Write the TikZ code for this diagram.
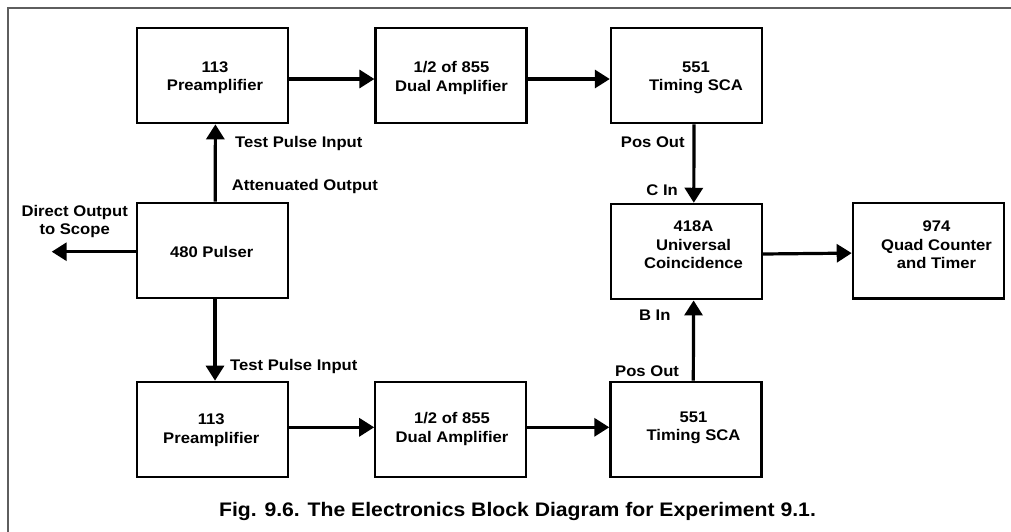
\documentclass[tikz,border=0pt]{standalone}
\usepackage{fontspec}
\setmainfont{Liberation Sans}[FakeStretch=1.08]
\usetikzlibrary{arrows.meta,calc}
\definecolor{framegray}{HTML}{5E5E5E}
\begin{document}
\begin{tikzpicture}[x=1pt,y=-1pt,
  box/.style={draw, line width=2.2pt, minimum width=151pt, minimum height=95.5pt, inner sep=0pt},
  txt/.style={font=\fontsize{15.4}{18.7}\selectfont\bfseries, align=center, inner sep=0pt},
  lbl/.style={font=\fontsize{15.4}{18.7}\selectfont\bfseries, inner sep=0pt},
  arr/.style={line width=3.2pt, -{Triangle[length=15pt,width=18pt]}},
  captext/.style={font=\fontsize{19.6}{23}\selectfont\bfseries, inner sep=0pt}
]
\useasboundingbox (0,0) rectangle (1011,531);
% frame
\draw[framegray, line width=2pt] (8,540) -- (8,8) -- (1020,8);

% boxes
\node[box] (pre1) at (212.4,75.5) {};
\node[box] (amp1) at (451,75.5) {};
\node[box] (sca1) at (686.4,75.5) {};
\node[box] (coin) at (686.2,251.6) {};
\node[box] (cnt) at (928.3,250.7) {};
\node[box] (puls) at (212.2,250.5) {};
\node[box] (pre2) at (212.2,429.5) {};
\node[box] (amp2) at (450.8,429.5) {};
\node[box] (sca2) at (685.9,429.5) {};

% box texts
\node[txt] (tpre1) at (215,77.8) {113\\Preamplifier};
\node[txt] (tamp1) at (451.5,77.8) {1/2 of 855\\Dual Amplifier};
\node[txt] (tsca1) at (696,77.8) {551\\Timing SCA};
\node[txt] (tcoin) at (693.5,244.7) {418A\\Universal\\Coincidence};
\node[txt] (tcnt) at (936.5,244.7) {974\\Quad Counter\\and Timer};
\node[txt] (tpuls) at (211.7,251.7) {480 Pulser};
\node[txt] (tpre2) at (211.3,430) {113\\Preamplifier};
\node[txt] (tamp2) at (452,429.3) {1/2 of 855\\Dual Amplifier};
\node[txt] (tsca2) at (693.5,427.8) {551\\Timing SCA};

% connectors
\draw[arr] ([yshift=-3.5pt]pre1.east) -- ([yshift=-3.5pt]amp1.west);
\draw[arr] ([yshift=-3.5pt]amp1.east) -- ([yshift=-3.5pt]sca1.west);
\draw[arr] ([xshift=7.6pt]sca1.south) -- ([xshift=7.6pt]coin.north);
\draw[arr] ([xshift=7.4pt]sca2.north) -- ([xshift=7.4pt]coin.south);
\draw[arr] ([yshift=-2.4pt]coin.east) -- ([yshift=-2.4pt]cnt.west);
\draw[arr] ([yshift=2.2pt]pre2.east) -- ([yshift=2.2pt]amp2.west);
\draw[arr] ([yshift=2.2pt]amp2.east) -- ([yshift=2.2pt]sca2.west);
\draw[arr] ([xshift=3pt]puls.north) -- ([xshift=3pt]pre1.south);
\draw[arr] ([xshift=2.8pt]puls.south) -- ([xshift=2.8pt]pre2.north);
\coordinate (scope) at (51.7,251.7);
\draw[arr] (puls.west |- scope) -- (scope);

% labels
\node[lbl, anchor=west] (ltp1) at (235,144) {Test Pulse Input};
\node[lbl, anchor=west] (lao) at (231.7,186.7) {Attenuated Output};
\node[txt] (ldo) at (74.7,221.5) {Direct Output\\to Scope};
\node[lbl, anchor=west] (lpo1) at (620.7,141.7) {Pos Out};
\node[lbl, anchor=east] (lcin) at (678,190) {C In};
\node[lbl, anchor=east] (lbin) at (670.7,315) {B In};
\node[lbl, anchor=west] (lpo2) at (615,370.7) {Pos Out};
\node[lbl, anchor=west] (ltp2) at (230,366.7) {Test Pulse Input};

% caption
\node[captext] (caption) at (517.5,511.7) {Fig. 9.6. The Electronics Block Diagram for Experiment 9.1.};
\end{tikzpicture}
\end{document}
